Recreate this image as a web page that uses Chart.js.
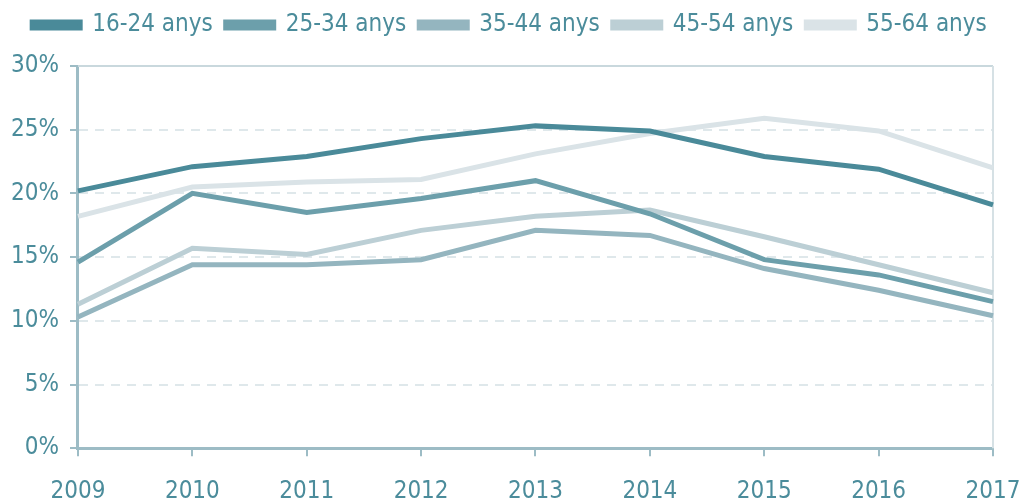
<!DOCTYPE html>
<html>
<head>
<meta charset="utf-8">
<script src="https://cdn.jsdelivr.net/npm/chart.js@4/dist/chart.umd.min.js"></script>
<style>
  html, body { margin: 0; padding: 0; background: #fff; }
  #wrap { width: 1019px; height: 501px; }
</style>
</head>
<body>
<div id="wrap"><canvas id="chart"></canvas></div>
<script>
/* ── Data ── */
const YEARS     = ['2009', '2010', '2011', '2012', '2013', '2014', '2015', '2016', '2017'];
const AGE_16_24 = [20.2, 22.1, 22.9, 24.3, 25.3, 24.9, 22.9, 21.9, 19.1];
const AGE_25_34 = [14.6, 20.0, 18.5, 19.6, 21.0, 18.4, 14.8, 13.6, 11.5];
const AGE_35_44 = [10.3, 14.4, 14.4, 14.8, 17.1, 16.7, 14.1, 12.4, 10.4];
const AGE_45_54 = [11.3, 15.7, 15.2, 17.1, 18.2, 18.7, 16.6, 14.4, 12.2];
const AGE_55_64 = [18.2, 20.5, 20.9, 21.1, 23.1, 24.7, 25.9, 24.9, 22.0];
const LABELS    = ['16-24 anys', '25-34 anys', '35-44 anys', '45-54 anys', '55-64 anys'];

/* ── Style ── */
const TEXT   = '#4b8c9b';
const AXIS   = '#9dbcc5';
const GRID   = '#dfe8eb';
const FONT   = "'DejaVu Sans Condensed', 'DejaVu Sans', sans-serif";
const COLORS = ['#4a8a99', '#6c9fab', '#94b5bf', '#bccfd5', '#dae3e7'];

/* ── Frame lines on top and right ── */
const framePlugin = {
  id: 'frame',
  beforeDatasetsDraw(chart) {
    const { ctx, chartArea: a } = chart;
    ctx.save();
    ctx.lineWidth = 2;
    ctx.strokeStyle = '#c9d8dd';
    ctx.beginPath();
    ctx.moveTo(a.left, a.top);
    ctx.lineTo(a.right, a.top);
    ctx.stroke();
    ctx.strokeStyle = '#d6e1e5';
    ctx.beginPath();
    ctx.moveTo(a.right, a.top);
    ctx.lineTo(a.right, a.bottom);
    ctx.stroke();
    ctx.restore();
  },
};

/* ── Extra room under the legend ── */
const legendGap = {
  id: 'legendGap',
  beforeInit(chart) {
    const fit = chart.legend.fit;
    chart.legend.fit = function () {
      fit.call(this);
      this.height += 19;
    };
  },
};

const series = [AGE_16_24, AGE_25_34, AGE_35_44, AGE_45_54, AGE_55_64];

new Chart(document.getElementById('chart'), {
  type: 'line',
  plugins: [framePlugin, legendGap],
  data: {
    labels: YEARS,
    datasets: series.map((d, i) => ({
      label:           LABELS[i],
      data:            d,
      borderColor:     COLORS[i],
      backgroundColor: COLORS[i],
      borderWidth:     5,
      pointRadius:     0,
      tension:         0,
      order:           i,
    })),
  },
  options: {
    responsive:          true,
    maintainAspectRatio: false,
    animation:           false,
    layout: { padding: { left: 0, right: 0, top: 0, bottom: -26 } },
    plugins: {
      legend: {
        position: 'top',
        align:    'center',
        labels: {
          color:     TEXT,
          font:      { family: FONT, size: 24 },
          boxWidth:  48,
          boxHeight: 6,
          padding:   13,
        },
      },
      tooltip: { enabled: false },
    },
    scales: {
      x: {
        offset: false,
        grid:   { display: true, drawOnChartArea: false, color: AXIS, tickLength: 8, lineWidth: 2 },
        border: { color: AXIS, width: 3 },
        ticks:  { color: TEXT, font: { family: FONT, size: 24 }, padding: 21, maxRotation: 0 },
        afterFit: s => { s.paddingRight = 26; },
      },
      y: {
        min: 0,
        max: 30,
        grid: {
          color:      ctx => (ctx.tick.value === 0 || ctx.tick.value === 30) ? 'rgba(0,0,0,0)' : GRID,
          lineWidth:  2,
          tickColor:  AXIS,
          tickLength: 8,
        },
        border: { color: AXIS, width: 3, dash: [9, 7] },
        ticks: {
          stepSize: 5,
          color:    TEXT,
          font:     { family: FONT, size: 24 },
          padding:  11,
          callback: v => v + '%',
        },
      },
    },
  },
});
</script>
</body>
</html>
